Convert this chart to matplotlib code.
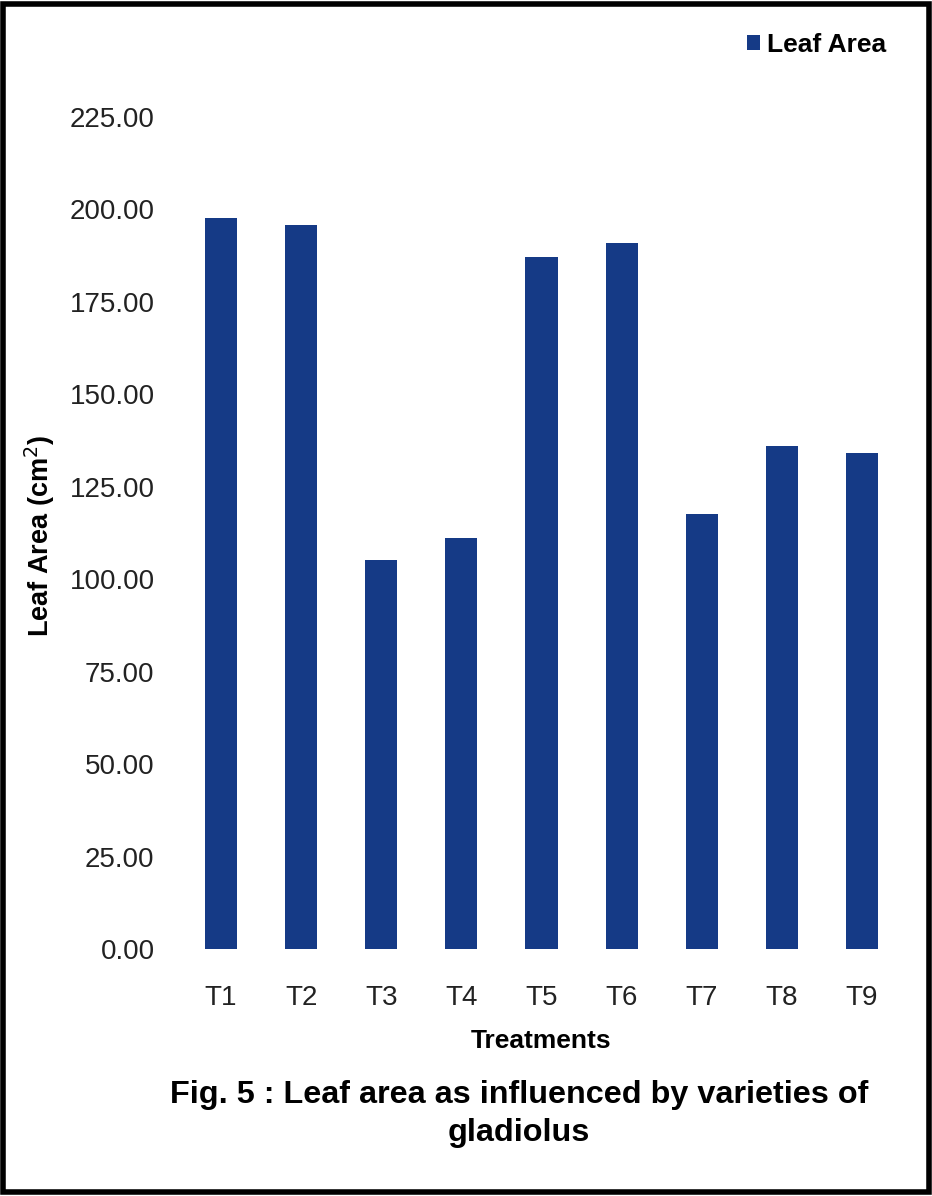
import matplotlib
matplotlib.use("Agg")
import matplotlib.pyplot as plt
from matplotlib.patches import Rectangle

treatments = ["T1", "T2", "T3", "T4", "T5", "T6", "T7", "T8", "T9"]
leaf_area = [197.8, 195.8, 105.2, 111.2, 187.2, 191.0, 117.7, 136.1, 134.2]
y_ticks = [0, 25, 50, 75, 100, 125, 150, 175, 200, 225]

bar_color = "#153a86"
plt.rcParams["font.family"] = ["Liberation Sans", "DejaVu Sans"]

fig = plt.figure(figsize=(9.32, 11.96), dpi=100)
ax = fig.add_axes([0.1942, 0.2065, 0.7736, 0.6957])

x = range(len(treatments))
ax.bar(x, leaf_area, width=0.4, color=bar_color, label="Leaf Area")

ax.set_xlim(-0.5, len(treatments) - 0.5)
ax.set_ylim(0, 225)
ax.set_yticks(y_ticks)
ax.set_yticklabels([f"{v:.2f}" for v in y_ticks])
ax.set_xticks(list(x))
ax.set_xticklabels(treatments)
ax.tick_params(axis="y", length=0, pad=19, labelsize=20, colors="#222222")
ax.tick_params(axis="x", length=0, pad=26, labelsize=20, colors="#222222")
for s in ax.spines.values():
    s.set_visible(False)

ax.set_ylabel("Leaf Area (cm$^2$)", fontsize=19.5, fontweight="bold")
ax.yaxis.set_label_coords(40 / 932, 1 - 536 / 1196, transform=fig.transFigure)
ax.yaxis.label.set_va("center")
ax.set_xlabel("Treatments", fontsize=19, fontweight="bold")
ax.xaxis.set_label_coords(0.581, (1196 - 1041) / 1196, transform=fig.transFigure)
ax.xaxis.label.set_va("center")

leg = fig.legend(loc="center right", bbox_to_anchor=(886 / 932, 1 - 45 / 1196),
                 frameon=False, prop={"size": 19, "weight": "bold"},
                 handlelength=0.5, handleheight=0.5, handletextpad=0.25,
                 borderpad=0, borderaxespad=0)

fig.text(0.557, 1 - 1095 / 1196, "Fig. 5 : Leaf area as influenced by varieties of",
         ha="center", va="center", fontsize=23.3, fontweight="bold")
fig.text(0.557, 1 - 1133 / 1196, "gladiolus",
         ha="center", va="center", fontsize=23.3, fontweight="bold")

fig.patches.append(Rectangle((0.003, 0.003), 0.994, 0.994, transform=fig.transFigure,
                             fill=False, edgecolor="black", linewidth=4))

fig.savefig("out.png", dpi=100, facecolor="white")
